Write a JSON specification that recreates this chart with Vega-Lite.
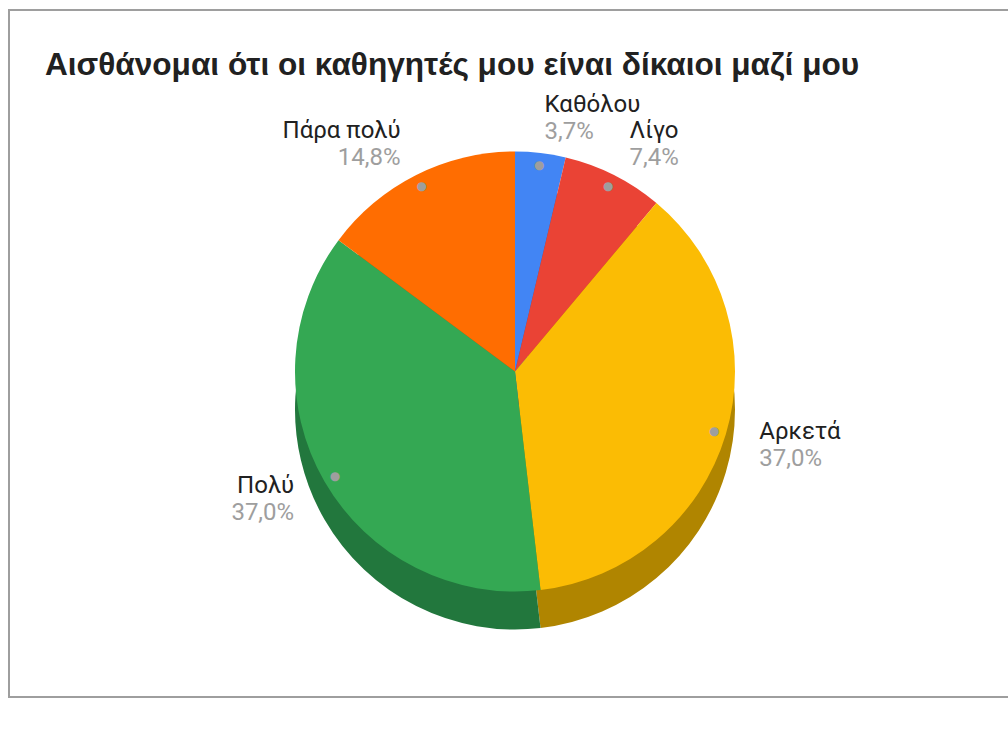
{
  "$schema": "https://vega.github.io/schema/vega-lite/v6.json",
  "width": 1012,
  "height": 687,
  "autosize": {"type": "none"},
  "padding": {"left": 9, "top": 10, "right": 0, "bottom": 38},
  "background": "#ffffff",
  "config": {"view": {"stroke": null}},
  "title": {
    "text": "Αισθάνομαι ότι οι καθηγητές μου είναι δίκαιοι μαζί μου",
    "anchor": "start",
    "orient": "top",
    "offset": -73,
    "dx": 37,
    "font": "Liberation Sans",
    "fontSize": 31.6,
    "fontWeight": "bold",
    "color": "#212121"
  },
  "data": {
    "values": [
      {"i": 1, "answer": "Καθόλου", "count": 1, "pct": "3,7%"},
      {"i": 2, "answer": "Λίγο", "count": 2, "pct": "7,4%"},
      {"i": 3, "answer": "Αρκετά", "count": 10, "pct": "37,0%"},
      {"i": 4, "answer": "Πολύ", "count": 10, "pct": "37,0%"},
      {"i": 5, "answer": "Πάρα πολύ", "count": 4, "pct": "14,8%"}
    ]
  },
  "layer": [
    {
      "data": {"values": [{"frame": 1}]},
      "mark": {"type": "rect", "fill": null, "stroke": "#9e9e9e", "strokeWidth": 2},
      "encoding": {}
    },
    {
      "mark": {"type": "arc", "outerRadius": 220, "y": {"expr": "height/2 + 56"}},
      "encoding": {
        "theta": {"field": "count", "type": "quantitative", "stack": true},
        "order": {"field": "i", "type": "quantitative"},
        "color": {
          "field": "answer",
          "type": "nominal",
          "legend": null,
          "scale": {
            "domain": ["Καθόλου", "Λίγο", "Αρκετά", "Πολύ", "Πάρα πολύ"],
            "range": ["#2d5fb0", "#a3302a", "#b08500", "#22773d", "#b34c00"]
          }
        }
      }
    },
    {
      "mark": {"type": "arc", "outerRadius": 220, "y": {"expr": "height/2 + 18"}},
      "encoding": {
        "theta": {"field": "count", "type": "quantitative", "stack": true},
        "order": {"field": "i", "type": "quantitative"},
        "fill": {
          "field": "answer",
          "type": "nominal",
          "legend": null,
          "scale": {
            "domain": ["Καθόλου", "Λίγο", "Αρκετά", "Πολύ", "Πάρα πολύ"],
            "range": ["#4285f4", "#ea4335", "#fbbc04", "#34a853", "#ff6d01"]
          }
        }
      }
    },
    {
      "mark": {"type": "text", "text": "●", "font": "DejaVu Sans", "radius": 208, "fontSize": 12, "color": "#9e9e9e", "y": {"expr": "height/2 + 18"}},
      "encoding": {
        "theta": {"field": "count", "type": "quantitative", "stack": true},
        "order": {"field": "i", "type": "quantitative"}
      }
    },
    {
      "mark": {
        "type": "text",
        "radius": 255,
        "dy": -13,
        "font": "Roboto",
        "fontSize": 24,
        "color": "#212121",
        "y": {"expr": "height/2 + 18"},
        "align": {"expr": "(datum.count_start + datum.count_end) < 27 ? 'left' : 'right'"}
      },
      "encoding": {
        "theta": {"field": "count", "type": "quantitative", "stack": true},
        "order": {"field": "i", "type": "quantitative"},
        "text": {"field": "answer"}
      }
    },
    {
      "mark": {
        "type": "text",
        "radius": 255,
        "dy": 14,
        "font": "Roboto",
        "fontSize": 24,
        "color": "#9e9e9e",
        "y": {"expr": "height/2 + 18"},
        "align": {"expr": "(datum.count_start + datum.count_end) < 27 ? 'left' : 'right'"}
      },
      "encoding": {
        "theta": {"field": "count", "type": "quantitative", "stack": true},
        "order": {"field": "i", "type": "quantitative"},
        "text": {"field": "pct"}
      }
    }
  ]
}
